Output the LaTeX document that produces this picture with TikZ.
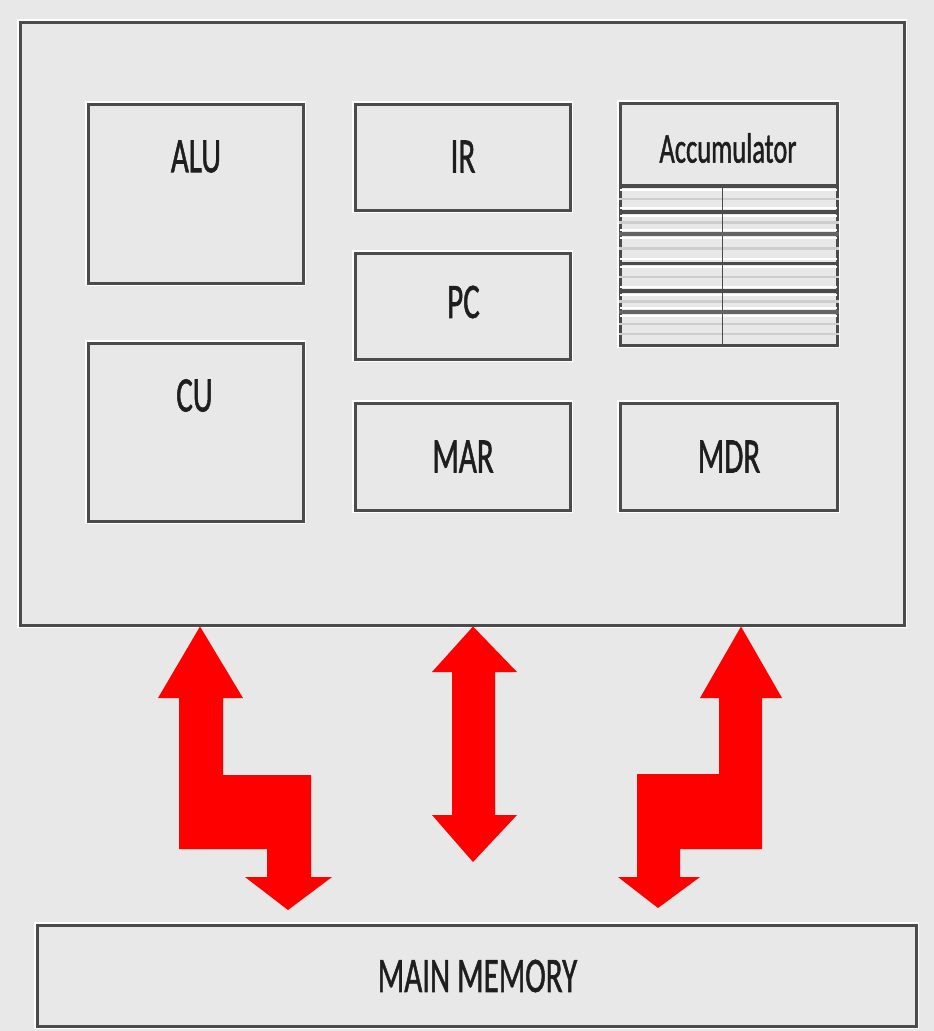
\documentclass[tikz,border=0pt]{standalone}
\usepackage{fontspec}
\setmainfont{Carlito}
\newfontfamily\lblfont{Carlito}[BoldFont=Carlito, BoldFeatures={FakeBold=1.4}]
\definecolor{bg}{HTML}{E8E8E8}
\definecolor{frame}{HTML}{4B4B4B}
\definecolor{ink}{HTML}{1E1E1E}
\definecolor{rowgray}{HTML}{CDCDCD}
\definecolor{midgray}{HTML}{646464}
\newcommand\tall[1]{\scalebox{1}[1.6]{#1}}
\tikzset{
  unit/.style={draw=frame, line width=3pt, fill=bg, inner sep=0pt,
    preaction={draw=white, line width=6pt}},
  lbl/.style={text=ink, inner sep=0pt, font=\lblfont\bfseries\fontsize{31}{31}\selectfont},
  smalllbl/.style={text=ink, inner sep=0pt, font=\lblfont\bfseries\fontsize{26.5}{26.5}\selectfont},
  bus/.style={fill=red, draw=none},
  rowline/.style={draw=frame, line width=3.5pt},
  faint/.style={draw=rowgray, line width=2.5pt},
  shine/.style={draw=white, line width=1.5pt}
}
\begin{document}
\begin{tikzpicture}[x=1pt, y=-1pt]
  % page and background
  \fill[bg] (0,0) rectangle (934,1031);
  \useasboundingbox (0,0) rectangle (934,1031);

  % processor enclosure
  \node[unit, minimum width=884pt, minimum height=603pt] (cpu) at (462,323.5) {};

  % registers and units
  \node[unit, minimum width=215pt, minimum height=179pt] (alu) at (195.5,193.5) {};
  \node[unit, minimum width=215pt, minimum height=178pt] (cu)  at (195.5,432) {};
  \node[unit, minimum width=215pt, minimum height=106pt] (ir)  at (462.5,157) {};
  \node[unit, minimum width=215pt, minimum height=106pt] (pc)  at (462.5,306) {};
  \node[unit, minimum width=215pt, minimum height=107pt] (mar) at (462.5,456.5) {};
  \node[unit, minimum width=217pt, minimum height=242pt] (acc) at (728.5,224) {};
  \node[unit, minimum width=217pt, minimum height=107pt] (mdr) at (728.5,456.5) {};

  % main memory
  \node[unit, minimum width=879pt, minimum height=101pt] (mem) at (476.5,975.5) {};

  % accumulator register rows
  \foreach \y in {199,222.5,248.5,277,301.5,324,334} {
    \draw[faint] (acc.west |- 0,\y) -- (acc.east |- 0,\y);
  }
  \foreach \y in {190,208,216,230,238,259,267,287,295,308,316} {
    \draw[shine] ([xshift=1.5pt]acc.west |- 0,\y) -- ([xshift=-1.5pt]acc.east |- 0,\y);
  }
  \draw[frame, line width=1pt] (722,186) -- (722,0 |- acc.south);
  \draw[rowline, line width=4.5pt] (acc.west |- 0,186) -- (acc.east |- 0,186);
  \draw[rowline] (acc.west |- 0,212) -- (acc.east |- 0,212);
  \draw[rowline, draw=midgray] (acc.west |- 0,234) -- (acc.east |- 0,234);
  \draw[rowline, line width=3pt] (acc.west |- 0,263) -- (acc.east |- 0,263);
  \draw[rowline, line width=4pt] (acc.west |- 0,291) -- (acc.east |- 0,291);
  \draw[rowline, draw=midgray] (acc.west |- 0,312) -- (acc.east |- 0,312);

  % labels
  \node[lbl] (alut) at (196,156.5) {\tall{ALU}};
  \node[lbl] (cut)  at (194.5,395.5) {\tall{CU}};
  \node[lbl] (irt)  at (463,156.5) {\tall{IR}};
  \node[lbl] (pct)  at (463.5,302) {\tall{PC}};
  \node[lbl] (mart) at (463,456.5) {\tall{MAR}};
  \node[lbl] (mdrt) at (729,456.5) {\tall{MDR}};
  \node[smalllbl] (acct) at (728,148) {\tall{Accumulator}};
  \node[lbl] (memt) at (477.5,976) {\tall{MAIN MEMORY}};

  % data paths between processor and memory
  \fill[bus] (200,0 |- cpu.south) -- (243,698) -- (223,698) -- (223,775)
    -- (311,775) -- (311,877) -- (332,877) -- (288,910) -- (245,877)
    -- (267,877) -- (267,849) -- (179,849) -- (179,698) -- (158,698) -- cycle;
  \fill[bus] (473,0 |- cpu.south) -- (517,672) -- (495,672) -- (495,815)
    -- (517,815) -- (473,862) -- (432,815) -- (452,815) -- (452,672)
    -- (432,672) -- cycle;
  \fill[bus] (741,0 |- cpu.south) -- (782,698) -- (762,698) -- (762,849)
    -- (680,849) -- (680,877) -- (700,877) -- (658,908) -- (618,877)
    -- (637,877) -- (637,774) -- (719,774) -- (719,698) -- (700,698) -- cycle;
\end{tikzpicture}
\end{document}
